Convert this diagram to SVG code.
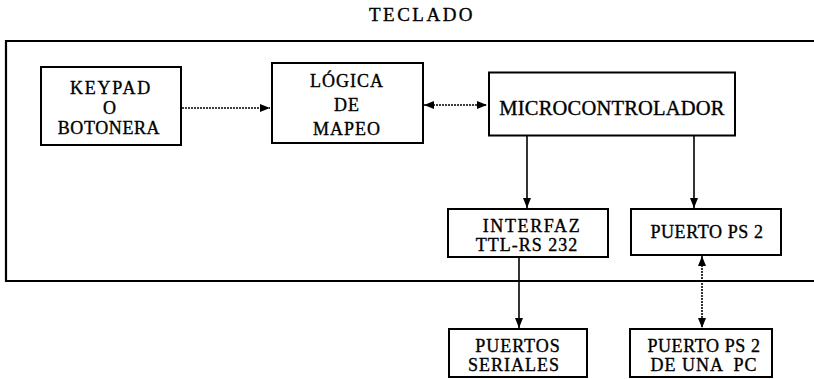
<svg xmlns="http://www.w3.org/2000/svg" width="814" height="379" viewBox="0 0 814 379">
<style>
  .box { fill: #fff; stroke: #000; stroke-width: 2; }
  .t { font-family: "Liberation Serif", "Times New Roman", serif; font-size: 18px; letter-spacing: 1px; fill: #000; stroke: #000; stroke-width: 0.35px; text-anchor: middle; }
  .solid { stroke: #000; stroke-width: 1.6; fill: none; }
  .dot { stroke: #000; stroke-width: 1.6; fill: none; stroke-dasharray: 2 1; }
  .frame { stroke: #000; stroke-width: 2.2; fill: none; }
</style>
<defs>
  <marker id="ah" markerUnits="userSpaceOnUse" markerWidth="10" markerHeight="10" viewBox="0 0 10 10" refX="10" refY="5" orient="auto-start-reverse">
    <path d="M0,1 L10,5 L0,9 Z" fill="#000"/>
  </marker>
</defs>
<rect width="814" height="379" fill="#fff"/>
<text class="t" x="422" y="21" style="letter-spacing:2.5px;font-size:19px">TECLADO</text>
<g id="frame">
  <path class="frame" d="M814,41 L6,41 L6,281 L814,281"/>
</g>
<g id="keypad">
  <rect class="box" x="41" y="67" width="140" height="78"/>
  <text class="t" x="111" y="94" style="letter-spacing:1.8px">KEYPAD</text>
  <text class="t" x="110" y="114">O</text>
  <text class="t" x="109" y="134" style="letter-spacing:0.6px">BOTONERA</text>
</g>
<g id="logica">
  <rect class="box" x="272" y="63" width="151" height="80"/>
  <text class="t" x="347" y="87">LÓGICA</text>
  <text class="t" x="347" y="111">DE</text>
  <text class="t" x="347" y="135">MAPEO</text>
</g>
<g id="micro">
  <rect class="box" x="489" y="72.5" width="246" height="63"/>
  <text class="t" x="612" y="115" style="font-size:20.5px;letter-spacing:0.2px">MICROCONTROLADOR</text>
</g>
<g id="interfaz">
  <rect class="box" x="448" y="209" width="160" height="48"/>
  <text class="t" x="532" y="232" style="letter-spacing:1.6px">INTERFAZ</text>
  <text class="t" x="527" y="251">TTL-RS 232</text>
</g>
<g id="ps2">
  <rect class="box" x="631" y="209" width="150" height="46"/>
  <text class="t" x="707" y="238" style="letter-spacing:0.6px">PUERTO PS 2</text>
</g>
<g id="seriales">
  <rect class="box" x="449" y="329" width="138" height="48"/>
  <text class="t" x="518" y="352">PUERTOS</text>
  <text class="t" x="514" y="371">SERIALES</text>
</g>
<g id="pspc">
  <rect class="box" x="630" y="329" width="142" height="48"/>
  <text class="t" x="704" y="352" style="letter-spacing:0.6px">PUERTO PS 2</text>
  <text class="t" x="704" y="371">DE UNA <tspan dx="5">PC</tspan></text>
</g>
<g id="connectors">
  <line class="dot" x1="182" y1="108" x2="270" y2="108" marker-end="url(#ah)"/>
  <line class="dot" x1="424" y1="105" x2="487" y2="105" marker-start="url(#ah)" marker-end="url(#ah)"/>
  <line class="solid" x1="527" y1="136" x2="527" y2="208" marker-end="url(#ah)"/>
  <line class="solid" x1="694" y1="136" x2="694" y2="208" marker-end="url(#ah)"/>
  <line class="solid" x1="519" y1="258" x2="519" y2="328" marker-end="url(#ah)"/>
  <line class="dot" x1="702" y1="256" x2="702" y2="328" marker-start="url(#ah)" marker-end="url(#ah)"/>
</g>
</svg>
